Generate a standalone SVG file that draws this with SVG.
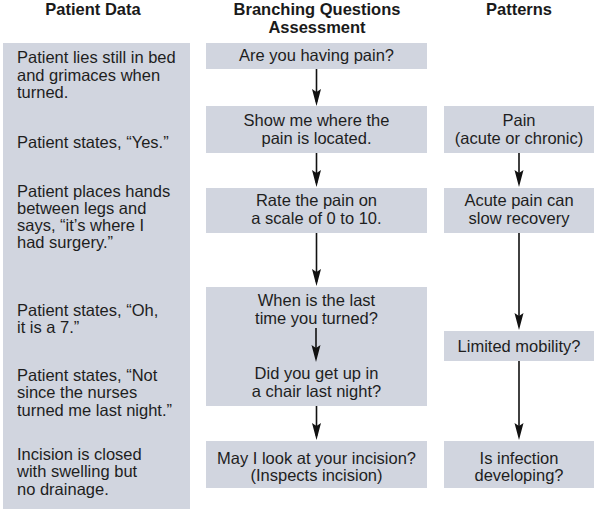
<svg xmlns="http://www.w3.org/2000/svg" width="594" height="509" viewBox="0 0 594 509">
<style>
.bg{fill:#ffffff}
.box{fill:#d1d5df}
.h{font-family:"Liberation Sans",Arial,Helvetica,sans-serif;font-weight:bold;font-size:16.5px;fill:#1a1a1a;text-anchor:middle}
.t{font-family:"Liberation Sans",Arial,Helvetica,sans-serif;font-size:16.5px;fill:#1e1e1e}
.c{text-anchor:middle}
.arr{stroke:#111;stroke-width:1.6;fill:none;marker-end:url(#ah)}
</style>
<defs>
<marker id="ah" viewBox="0 0 17 10" refX="13" refY="5" markerWidth="17" markerHeight="10" markerUnits="userSpaceOnUse" orient="auto">
<path d="M0,0.5 L17,5 L0,9.5 L3,5 Z" fill="#111"/>
</marker>
</defs>
<rect class="bg" x="0" y="0" width="594" height="509"/>

<g id="headers">
<text class="h" x="93" y="15">Patient Data</text>
<text class="h" x="317" y="15">Branching Questions</text>
<text class="h" x="317" y="33">Assessment</text>
<text class="h" x="519" y="15">Patterns</text>
</g>

<g id="patient-data">
<rect class="box" x="3" y="43" width="187" height="466"/>
<text class="t" x="17"><tspan x="17" y="63">Patient lies still in bed</tspan><tspan x="17" y="80.5">and grimaces when</tspan><tspan x="17" y="98">turned.</tspan></text>
<text class="t" x="17" y="147.5">Patient states, “Yes.”</text>
<text class="t" x="17"><tspan x="17" y="197">Patient places hands</tspan><tspan x="17" y="214">between legs and</tspan><tspan x="17" y="231">says, “it’s where I</tspan><tspan x="17" y="248">had surgery.”</tspan></text>
<text class="t" x="17"><tspan x="17" y="316">Patient states, “Oh,</tspan><tspan x="17" y="333">it is a 7.”</tspan></text>
<text class="t" x="17"><tspan x="17" y="381">Patient states, “Not</tspan><tspan x="17" y="398">since the nurses</tspan><tspan x="17" y="416">turned me last night.”</tspan></text>
<text class="t" x="17"><tspan x="17" y="460">Incision is closed</tspan><tspan x="17" y="477">with swelling but</tspan><tspan x="17" y="495">no drainage.</tspan></text>
</g>

<g id="q1">
<rect class="box" x="206" y="43" width="221" height="26"/>
<text class="t c" x="316.5" y="61">Are you having pain?</text>
</g>
<g id="q2">
<rect class="box" x="206" y="106" width="221" height="47"/>
<text class="t c" x="316.5" y="126">Show me where the</text>
<text class="t c" x="316.5" y="143.5">pain is located.</text>
</g>
<g id="q3">
<rect class="box" x="206" y="188" width="221" height="45"/>
<text class="t c" x="316.5" y="206">Rate the pain on</text>
<text class="t c" x="316.5" y="223.5">a scale of 0 to 10.</text>
</g>
<g id="q4">
<rect class="box" x="206" y="287" width="221" height="119"/>
<text class="t c" x="316.5" y="306">When is the last</text>
<text class="t c" x="316.5" y="324">time you turned?</text>
<text class="t c" x="316.5" y="379">Did you get up in</text>
<text class="t c" x="316.5" y="397">a chair last night?</text>
</g>
<g id="q5">
<rect class="box" x="206" y="441" width="221" height="47"/>
<text class="t c" x="316.5" y="463.5">May I look at your incision?</text>
<text class="t c" x="316.5" y="480.5">(Inspects incision)</text>
</g>

<g id="p1">
<rect class="box" x="444" y="106" width="150" height="47"/>
<text class="t c" x="519" y="126">Pain</text>
<text class="t c" x="519" y="143.5">(acute or chronic)</text>
</g>
<g id="p2">
<rect class="box" x="444" y="188" width="150" height="45"/>
<text class="t c" x="519" y="206">Acute pain can</text>
<text class="t c" x="519" y="223.5">slow recovery</text>
</g>
<g id="p3">
<rect class="box" x="444" y="331" width="150" height="30"/>
<text class="t c" x="519" y="352">Limited mobility?</text>
</g>
<g id="p4">
<rect class="box" x="444" y="441" width="150" height="47"/>
<text class="t c" x="519" y="463.5">Is infection</text>
<text class="t c" x="519" y="480.5">developing?</text>
</g>

<g id="connectors">
<line class="arr" x1="316.5" y1="69" x2="316.5" y2="102"/>
<line class="arr" x1="316.5" y1="153" x2="316.5" y2="183"/>
<line class="arr" x1="316.5" y1="233" x2="316.5" y2="282"/>
<line class="arr" x1="316" y1="328" x2="316" y2="358"/>
<line class="arr" x1="316.5" y1="406" x2="316.5" y2="436"/>
<line class="arr" x1="519" y1="153" x2="519" y2="183"/>
<line class="arr" x1="519" y1="233" x2="519" y2="326"/>
<line class="arr" x1="519" y1="361" x2="519" y2="436"/>
</g>
</svg>
